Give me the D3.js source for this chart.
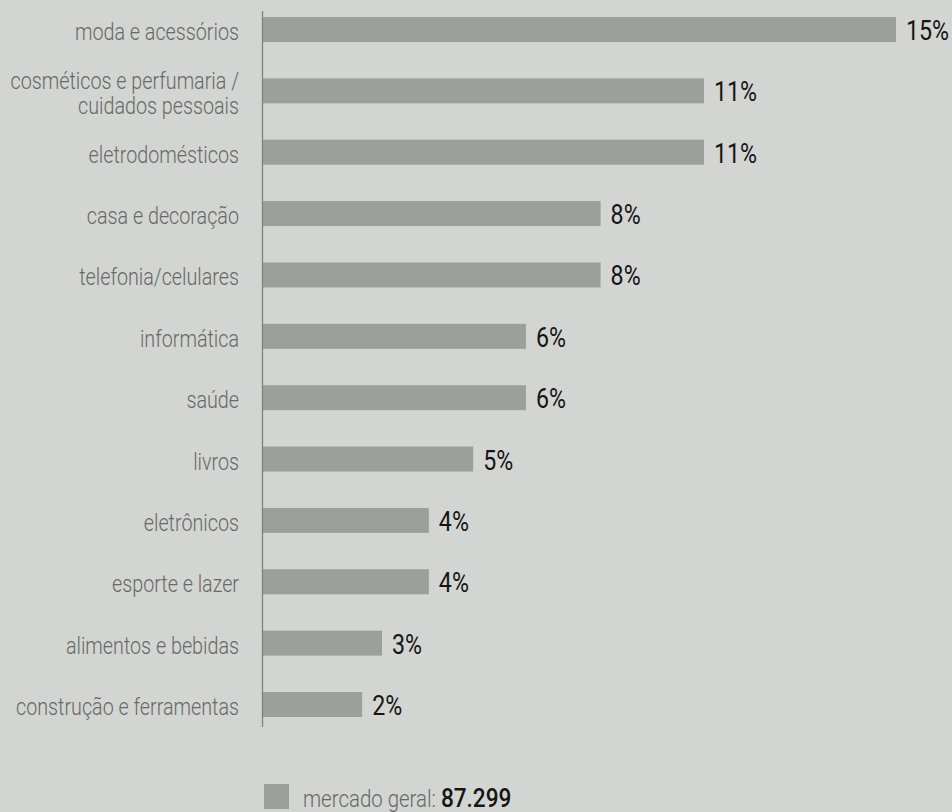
<!DOCTYPE html>
<html><head><meta charset="utf-8">
<script src="https://cdn.jsdelivr.net/npm/d3@7"></script>
<style>
html,body{margin:0;padding:0;background:#d3d5d2;}
svg{display:block;}
</style></head>
<body>
<svg id="chart" width="952" height="812"></svg>
<script>
const categories = [
  ["moda e acessórios"],
  ["cosméticos e perfumaria /", "cuidados pessoais"],
  ["eletrodomésticos"],
  ["casa e decoração"],
  ["telefonia/celulares"],
  ["informática"],
  ["saúde"],
  ["livros"],
  ["eletrônicos"],
  ["esporte e lazer"],
  ["alimentos e bebidas"],
  ["construção e ferramentas"]
];
const values = [15, 10.45, 10.45, 8.0, 8.0, 6.23, 6.23, 4.98, 3.93, 3.93, 2.82, 2.35];
const valueLabels = ["15%", "11%", "11%", "8%", "8%", "6%", "6%", "5%", "4%", "4%", "3%", "2%"];
const legendLabel = "mercado geral:";
const legendValue = "87.299";

const svg = d3.select("#chart");
const W = 952, H = 812;
svg.append("rect").attr("width", W).attr("height", H).attr("fill", "#d3d5d2");

const keys = categories.map(c => c.join(" "));
const y = d3.scaleBand().domain(keys).range([17, 717]).paddingInner(0.593).paddingOuter(0);
const x = d3.scaleLinear().domain([0, 15]).range([263, 896]);

const FONT = "Roboto, 'Open Sans', sans-serif";
const SX = 0.84;

// bars
svg.append("g").selectAll("rect").data(values).join("rect")
  .attr("x", x(0))
  .attr("y", (d, i) => y(keys[i]))
  .attr("width", d => x(d) - x(0))
  .attr("height", y.bandwidth())
  .attr("fill", "#9ba09a");

// axis line
svg.append("line")
  .attr("x1", 262.5).attr("x2", 262.5)
  .attr("y1", y.range()[0] - 6).attr("y2", y.range()[1] + 10)
  .attr("stroke", "#80837f").attr("stroke-width", 1.3);

// category labels
categories.forEach((lines, i) => {
  const cy = y(keys[i]) + y.bandwidth() / 2;
  const base = lines.length === 1 ? cy + 10.5 : cy - 2;
  const g = svg.append("g").attr("transform", `translate(239,${base}) scale(${SX},1)`);
  lines.forEach((t, j) => {
    g.append("text").attr("x", 0).attr("y", j * 25)
      .attr("text-anchor", "end")
      .attr("font-family", FONT).attr("font-weight", 300)
      .attr("font-size", 23.5).attr("fill", "#666966")
      .text(t);
  });
});

// value labels
values.forEach((v, i) => {
  const cy = y(keys[i]) + y.bandwidth() / 2;
  svg.append("g").attr("transform", `translate(${x(v) + 10},${cy + 10.5}) scale(0.86,1)`)
    .append("text")
    .attr("font-family", FONT).attr("font-weight", 400)
    .attr("font-size", 27).attr("fill", "#151515")
    .text(valueLabels[i]);
});

// legend
svg.append("rect").attr("x", 264).attr("y", 784).attr("width", 25).attr("height", 25).attr("fill", "#9ba09a");
const lg = svg.append("g").attr("transform", `translate(303,807) scale(0.87,1)`);
const lt = lg.append("text").attr("font-family", FONT).attr("fill", "#666966");
lt.append("tspan").attr("font-weight", 300).attr("font-size", 23.5).text(legendLabel + " ");
lt.append("tspan").attr("font-weight", 500).attr("font-size", 26).attr("fill", "#151515").text(legendValue);
</script>
</body></html>
